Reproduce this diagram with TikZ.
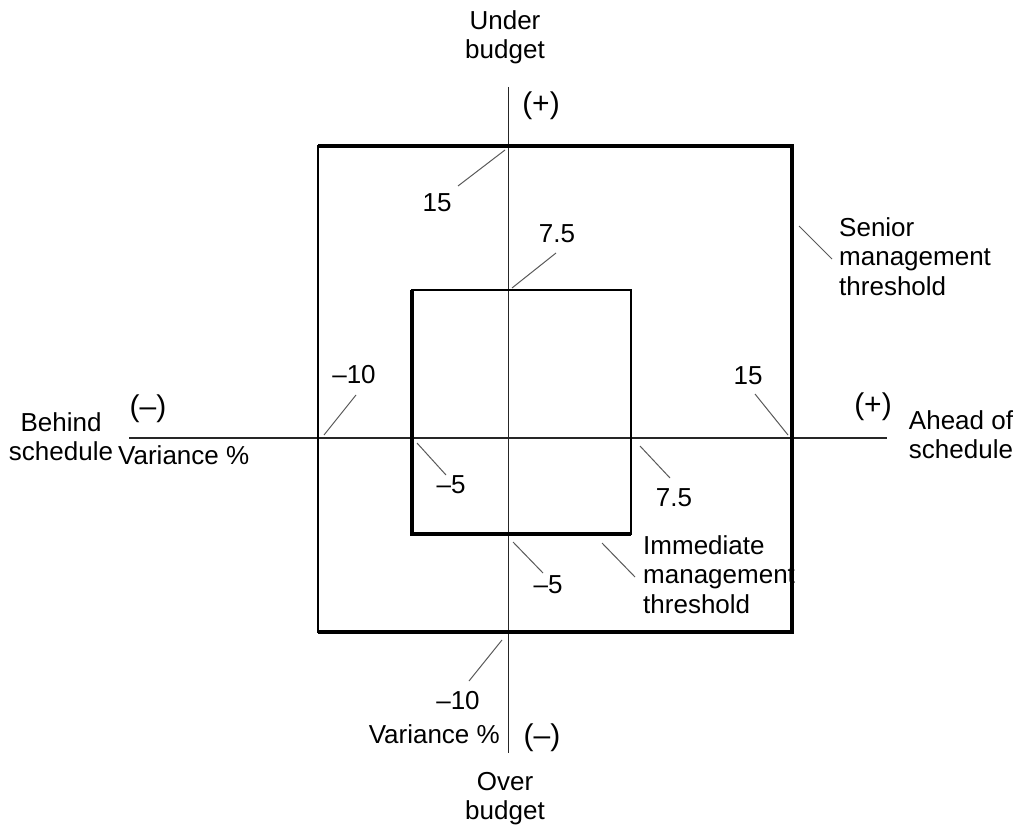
\documentclass[tikz,border=0pt]{standalone}
\usepackage{fontspec}
\setmainfont{Liberation Sans}
\begin{document}
\begin{tikzpicture}[x=1pt,y=-1pt,
  lbl/.style={inner sep=0pt,font=\fontsize{26}{29.5}\selectfont},
  sign/.style={inner sep=0pt,font=\fontsize{30}{30}\selectfont},
  axis/.style={line width=1.6pt,black!85},
  thinedge/.style={line width=2pt},
  thickedge/.style={line width=3.2pt},
  leader/.style={line width=1pt,black!65}]
\useasboundingbox (0,0) rectangle (1023,837);
% axes
\coordinate (vt) at (508.5,87);
\coordinate (vb) at (508.5,753);
\coordinate (hl) at (129,438);
\coordinate (hr) at (887,438);
\draw[axis] (vt) -- (vb);
\draw[axis] (hl) -- (hr);
% outer square
\coordinate (oTL) at (318,146);
\coordinate (oTR) at (792,146);
\coordinate (oBR) at (792,632);
\coordinate (oBL) at (318,632);
\draw[thinedge] (oTL) rectangle (oBR);
\draw[thickedge,line join=miter] (oTL) -- (oTR) -- (oBR) -- (oBL);
% inner rectangle
\coordinate (iTL) at (412,290);
\coordinate (iTR) at (631,290);
\coordinate (iBR) at (631,534);
\coordinate (iBL) at (412,534);
\draw[thinedge] (iTL) rectangle (iBR);
\draw[thickedge,line join=miter] (iBR) -- (iBL) -- (iTL);
% labels
\node[lbl,anchor=north,align=center] (under) at (505,10) {Under\\budget};
\node[sign] (plusT) at (541,106) {(+)};
\node[lbl] (t15) at (437,203) {15};
\node[lbl] (t75) at (557,234) {7.5};
\node[lbl,anchor=north west,align=left] (senior) at (839,217) {Senior\\management\\threshold};
\node[lbl] (l10) at (354,375) {–10};
\node[sign] (minusL) at (148,409) {(–)};
\node[lbl,anchor=north,align=center] (behind) at (61,412) {Behind\\schedule};
\node[lbl,anchor=base west] (varL) at (118,464) {Variance \%};
\node[lbl] (l5) at (451,485) {–5};
\node[lbl] (r15) at (748,376) {15};
\node[sign] (plusR) at (873,407) {(+)};
\node[lbl,anchor=north,align=center] (ahead) at (961,410) {Ahead of\\schedule};
\node[lbl] (r75) at (674,498) {7.5};
\node[lbl,anchor=north west,align=left] (immediate) at (643,535) {Immediate\\management\\threshold};
\node[lbl] (b5) at (548,585) {–5};
\node[lbl] (b10) at (458,701) {–10};
\node[lbl,anchor=base east] (varB) at (500,743) {Variance \%};
\node[sign] (minusB) at (542,738) {(–)};
\node[lbl,anchor=north,align=center] (over) at (505,772) {Over\\budget};
% leader lines
\coordinate (a1) at (505,150); \coordinate (a2) at (458,186);
\coordinate (b1) at (512,288); \coordinate (b2) at (556,253);
\coordinate (c1) at (799,226); \coordinate (c2) at (832,259);
\coordinate (d1) at (356,395); \coordinate (d2) at (324,435);
\coordinate (e1) at (417,443); \coordinate (e2) at (446,475);
\coordinate (f1) at (755,394); \coordinate (f2) at (788,435);
\coordinate (g1) at (640,446); \coordinate (g2) at (670,478);
\coordinate (h1) at (602,543); \coordinate (h2) at (635,577);
\coordinate (k1) at (513,542); \coordinate (k2) at (543,573);
\coordinate (m1) at (502,640); \coordinate (m2) at (469,681);
\draw[leader] (a1) -- (a2);
\draw[leader] (b1) -- (b2);
\draw[leader] (c1) -- (c2);
\draw[leader] (d1) -- (d2);
\draw[leader] (e1) -- (e2);
\draw[leader] (f1) -- (f2);
\draw[leader] (g1) -- (g2);
\draw[leader] (h1) -- (h2);
\draw[leader] (k1) -- (k2);
\draw[leader] (m1) -- (m2);
\end{tikzpicture}
\end{document}
